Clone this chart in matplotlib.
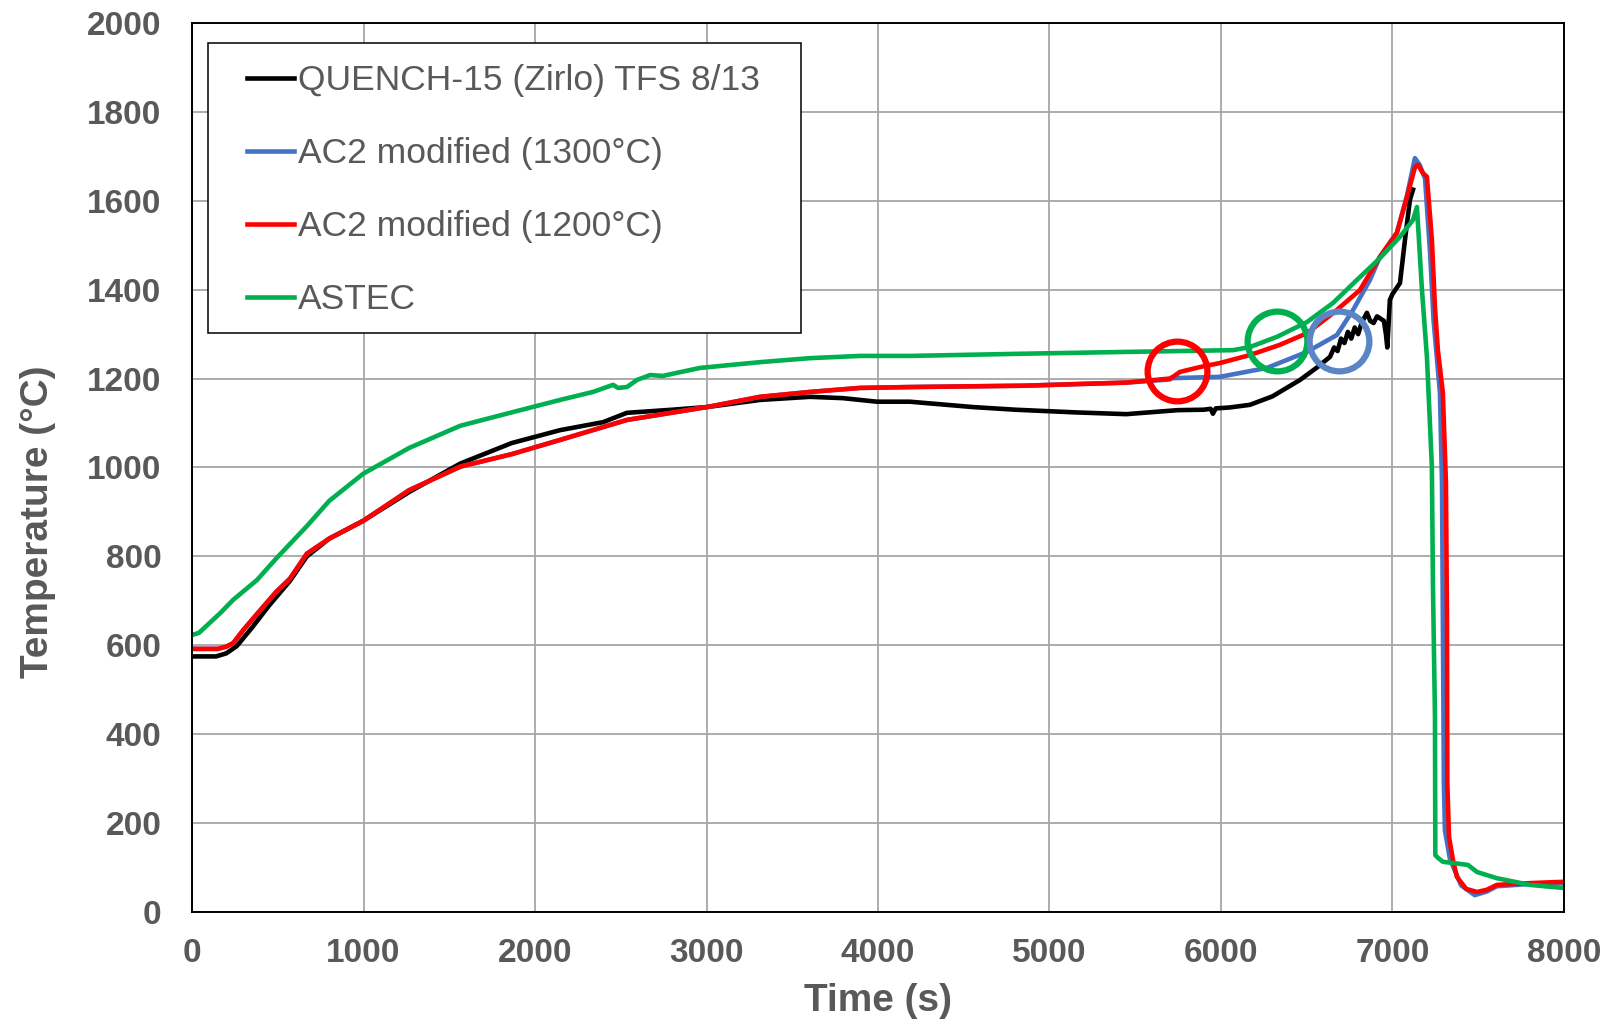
import matplotlib.pyplot as plt

# QUENCH-15 rod temperature, TFS 8/13, against the two code predictions
t_exp = [0, 140, 200, 260, 350, 450, 571, 669, 800, 998, 1266, 1565, 1864, 2146,
         2397, 2536, 2800, 3003, 3312, 3604, 3796, 3994, 4187, 4552, 4800, 5149,
         5448, 5747, 5900, 5940, 5953, 5970, 6050, 6169, 6300, 6461, 6560, 6636,
         6660, 6680, 6700, 6720, 6740, 6760, 6780, 6800, 6820, 6851, 6870, 6890,
         6910, 6930, 6950, 6962, 6970, 6985, 7000, 7044, 7073, 7102, 7120]
T_exp = [575, 575, 582, 598, 640, 690, 745, 800, 840, 880, 945, 1009, 1055, 1084,
         1102, 1123, 1130, 1136, 1152, 1159, 1156, 1148, 1148, 1136, 1130, 1124,
         1120, 1129, 1130, 1132, 1121, 1133, 1135, 1141, 1160, 1197, 1225, 1249,
         1270, 1262, 1290, 1280, 1305, 1290, 1315, 1300, 1325, 1348, 1330, 1325,
         1340, 1335, 1330, 1300, 1270, 1377, 1390, 1415, 1512, 1602, 1625]

t_1300 = [0, 150, 200, 240, 300, 400, 490, 571, 669, 800, 998, 1266, 1565, 1864,
          2146, 2536, 3003, 3312, 3604, 3895, 4187, 4851, 5448, 5700, 5720, 5994,
          6268, 6501, 6676, 6770, 6869, 6927, 7026, 7085, 7131, 7160, 7190, 7220,
          7240, 7277, 7289, 7294, 7300, 7306, 7335, 7400, 7480, 7550, 7609, 7802,
          8000]
T_1300 = [592, 592, 597, 605, 635, 680, 720, 750, 806, 840, 880, 949, 1002, 1030,
          1062, 1107, 1136, 1159, 1170, 1179, 1181, 1184, 1191, 1198, 1201, 1204,
          1224, 1260, 1298, 1354, 1422, 1474, 1528, 1612, 1696, 1680, 1650, 1480,
          1330, 1168, 965, 664, 290, 184, 120, 60, 38, 46, 58, 63, 65]

t_1200 = [0, 150, 200, 240, 300, 400, 490, 571, 669, 800, 998, 1266, 1565, 1864,
          2146, 2536, 3003, 3312, 3604, 3895, 4187, 4851, 5448, 5700, 5720, 5761,
          5878, 5994, 6169, 6344, 6501, 6653, 6810, 6927, 7026, 7085, 7131, 7149,
          7178, 7201, 7230, 7248, 7265, 7294, 7312, 7318, 7320, 7330, 7353, 7376,
          7430, 7493, 7550, 7609, 7802, 8000]
T_1200 = [592, 592, 597, 605, 635, 680, 720, 750, 806, 840, 880, 949, 1002, 1030,
          1062, 1107, 1136, 1159, 1170, 1179, 1181, 1184, 1191, 1200, 1204, 1215,
          1226, 1235, 1253, 1276, 1302, 1347, 1399, 1474, 1528, 1609, 1675, 1681,
          1662, 1654, 1512, 1361, 1264, 1168, 965, 664, 290, 169, 117, 79, 52, 45,
          50, 61, 65, 68]

t_astec = [0, 40, 163, 239, 379, 490, 669, 800, 998, 1266, 1565, 1864, 2146, 2338,
           2455, 2484, 2536, 2595, 2671, 2746, 2828, 2962, 3312, 3604, 3895, 4187,
           4851, 5448, 6070, 6169, 6327, 6501, 6653, 6793, 6927, 7044, 7120, 7143,
           7172, 7201, 7230, 7236, 7248, 7250, 7265, 7294, 7440, 7493, 7609, 7802,
           8000]
T_astec = [623, 628, 672, 702, 747, 795, 868, 925, 986, 1044, 1094, 1124, 1152,
           1170, 1186, 1179, 1181, 1197, 1208, 1206, 1213, 1224, 1237, 1246, 1251,
           1251, 1256, 1260, 1264, 1271, 1294, 1327, 1370, 1422, 1471, 1519, 1557,
           1586, 1400, 1249, 1001, 740, 440, 128, 122, 113, 106, 90, 76, 61, 54]

# points where each calculation leaves the experiment
mark_t = [5743, 6327, 6688]
mark_T = [1217, 1285, 1285]
mark_colors = ['#FF0000', '#00B050', '#5A86C5']

series = [
    (t_exp, T_exp, '#000000', 'QUENCH-15 (Zirlo) TFS 8/13'),
    (t_1300, T_1300, '#4472C4', 'AC2 modified (1300°C)'),
    (t_1200, T_1200, '#FF0000', 'AC2 modified (1200°C)'),
    (t_astec, T_astec, '#00B050', 'ASTEC'),
]

grey = '#595959'
plt.rcParams['font.family'] = ['Liberation Sans', 'DejaVu Sans']

fig = plt.figure(figsize=(16.06, 10.26), dpi=100)
ax = fig.add_axes([0.1196, 0.1111, 0.8542, 0.8665])

for t, T, c, lab in series:
    ax.plot(t, T, color=c, lw=3.3, label=lab, solid_joinstyle='round')

for x, y, c in zip(mark_t, mark_T, mark_colors):
    ax.plot(x, y, marker='o', markersize=43, markerfacecolor='none',
            markeredgecolor=c, markeredgewidth=4.5, zorder=4)

ax.set_xlim(0, 8000)
ax.set_ylim(0, 2000)
ax.set_xticks(range(0, 8001, 1000))
ax.set_yticks(range(0, 2001, 200))
ax.grid(True, color='#A6A6A6', lw=1.3)
ax.set_axisbelow(True)
for s in ax.spines.values():
    s.set_color('black')
    s.set_linewidth(1.4)

ax.tick_params(axis='both', length=0, labelsize=24, labelcolor=grey)
ax.tick_params(axis='x', pad=19)
ax.tick_params(axis='y', pad=22)
for lbl in ax.get_xticklabels() + ax.get_yticklabels():
    lbl.set_fontweight('bold')

ax.set_xlabel('Time (s)', fontsize=28, fontweight='bold', color=grey)
ax.set_ylabel('Temperature (°C)', fontsize=28, fontweight='bold', color=grey)
ax.xaxis.set_label_coords(0.5, -0.08)
ax.yaxis.set_label_coords(-0.099, 0.4387)

# legend box
box = plt.Rectangle((0.0117, 0.6513), 0.4322, 0.3262, transform=ax.transAxes,
                    facecolor='white', edgecolor='black', lw=1.1, zorder=5)
ax.add_patch(box)
leg = ax.legend(loc='upper left', bbox_to_anchor=(0.0401, 0.9535), frameon=False,
                borderpad=0, borderaxespad=0, handlelength=1.33, handletextpad=0.1,
                labelspacing=1.13, fontsize=25.5)
leg.set_zorder(6)
for txt in leg.get_texts():
    txt.set_color(grey)

fig.savefig('out.png', dpi=100)
